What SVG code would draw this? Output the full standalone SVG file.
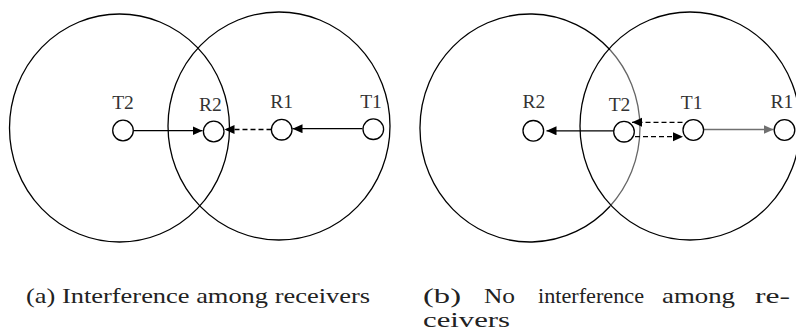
<svg xmlns="http://www.w3.org/2000/svg" width="796" height="335" viewBox="0 0 796 335">
<style>
.range{fill:none;stroke:#000;stroke-width:1.3}
.node{fill:#fff;stroke:#000;stroke-width:1.3}
.lbl{font-size:19.5px;fill:#333;text-anchor:middle}
.cap{font-size:21px;fill:#222}
.link{fill:none;stroke:#000;stroke-width:1.3}
.dash{stroke-dasharray:5 3}
.gray{stroke:#707070}
</style>
<defs>
<marker id="ah" markerUnits="userSpaceOnUse" markerWidth="11" markerHeight="10" refX="10" refY="4.5" orient="auto"><path d="M0,0 L10,4.5 L0,9 z" fill="#000"/></marker>
<marker id="ahg" markerUnits="userSpaceOnUse" markerWidth="11" markerHeight="10" refX="10" refY="4.5" orient="auto"><path d="M0,0 L10,4.5 L0,9 z" fill="#707070"/></marker>
</defs>
<rect width="796" height="335" fill="#fff"/>
<g id="panel-a-ranges">
<ellipse class="range" cx="119.5" cy="128" rx="110" ry="114"/>
<ellipse class="range" cx="279" cy="126" rx="111" ry="114"/>
</g>
<g id="panel-b-ranges">
<path class="range" d="M610,49.8 A110,114 0 1 0 610,206.2"/>
<path class="range" style="stroke:#666" d="M610,49.8 A110,114 0 0 1 610,206.2"/>
<ellipse class="range" cx="690" cy="126" rx="110" ry="114"/>
</g>
<g id="connectors">
<line class="link" x1="133.5" y1="130.7" x2="202.5" y2="130.7" marker-end="url(#ah)"/>
<line class="link dash" x1="271.5" y1="129.5" x2="224.5" y2="129.5" marker-end="url(#ah)"/>
<line class="link" x1="362.5" y1="128.7" x2="292.5" y2="128.7" marker-end="url(#ah)"/>
<line class="link" x1="613.5" y1="130.8" x2="546.5" y2="130.8" marker-end="url(#ah)"/>
<line class="link dash" x1="682.5" y1="122.3" x2="632" y2="122.3" marker-end="url(#ah)"/>
<line class="link dash" x1="635" y1="136.7" x2="683" y2="136.7" marker-end="url(#ah)"/>
<line class="link gray" x1="704" y1="129.5" x2="773.5" y2="129.5" marker-end="url(#ahg)"/>
</g>
<g font-family="Liberation Serif, DejaVu Serif, serif">
<g id="a-T2"><circle class="node" cx="123" cy="130.5" r="10.3"/><text class="lbl" x="123" y="108.5">T2</text></g>
<g id="a-R2"><circle class="node" cx="213.7" cy="131.5" r="10.3"/><text class="lbl" x="210.5" y="110.5">R2</text></g>
<g id="a-R1"><circle class="node" cx="281.7" cy="129.7" r="10.3"/><text class="lbl" x="281.7" y="108.3">R1</text></g>
<g id="a-T1"><circle class="node" cx="373.3" cy="129.2" r="10.3"/><text class="lbl" x="371" y="108.3">T1</text></g>
<g id="b-R2"><circle class="node" cx="533.3" cy="130.8" r="10.3"/><text class="lbl" x="534" y="108.3">R2</text></g>
<g id="b-T2"><circle class="node" cx="624" cy="131.7" r="10.3"/><text class="lbl" x="619.5" y="110.7">T2</text></g>
<g id="b-T1"><circle class="node" cx="693.3" cy="130" r="10.3"/><text class="lbl" x="691.7" y="109.3">T1</text></g>
<g id="b-R1"><circle class="node" cx="784.5" cy="130" r="10.3"/><text class="lbl" x="782" y="108.3">R1</text></g>
<g id="captions">
<text class="cap" x="26" y="303" textLength="344" lengthAdjust="spacingAndGlyphs">(a) Interference among receivers</text>
<text class="cap" x="423" y="303" textLength="38" lengthAdjust="spacingAndGlyphs">(b)</text>
<text class="cap" x="484" y="303" textLength="31" lengthAdjust="spacingAndGlyphs">No</text>
<text class="cap" x="538" y="303" textLength="106" lengthAdjust="spacingAndGlyphs">interference</text>
<text class="cap" x="662" y="303" textLength="73" lengthAdjust="spacingAndGlyphs">among</text>
<text class="cap" x="755" y="303" textLength="35" lengthAdjust="spacingAndGlyphs">re-</text>
<text class="cap" x="423" y="327" textLength="87" lengthAdjust="spacingAndGlyphs">ceivers</text>
</g>
</g>
</svg>
